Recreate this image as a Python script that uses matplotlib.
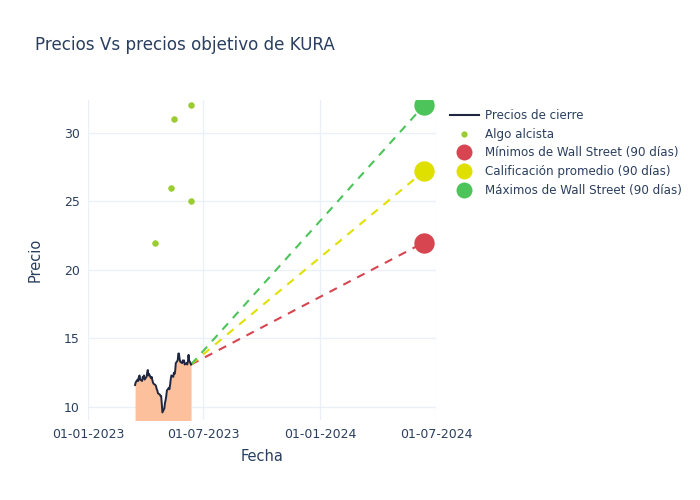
import matplotlib
matplotlib.use("Agg")
import matplotlib.pyplot as plt
import pandas as pd
from matplotlib.lines import Line2D

# ---- data ----
price_dates = pd.bdate_range("2023-03-16", "2023-06-12")
close_prices = [11.6, 11.8, 12.0, 11.9, 12.2, 12.3, 12.0, 11.9, 12.2, 12.1,
                12.3, 12.0, 12.2, 12.5, 12.7, 12.3, 12.4, 12.1, 12.2, 12.0,
                11.8, 11.7, 11.6, 11.5, 11.3, 11.2, 11.0, 10.9, 10.8, 10.8,
                10.2, 9.6, 9.9, 10.3, 10.5, 10.8, 11.2, 11.4, 11.3, 11.6,
                12.0, 12.3, 12.2, 12.5, 12.4, 12.6, 13.2, 13.4, 13.9, 13.9,
                13.5, 13.3, 13.2, 13.4, 13.3, 13.4, 13.1, 13.2, 13.1, 13.3,
                13.8, 13.4, 13.1]

bull_dates = pd.to_datetime(["2023-04-16", "2023-05-11", "2023-05-16", "2023-06-12", "2023-06-12"])
bull_prices = [22, 26, 31, 32, 25]

target_date = pd.Timestamp("2024-06-12")
target_low = 22.0
target_avg = 27.2
target_high = 32.0

x_ticks = pd.to_datetime(["2023-01-01", "2023-07-01", "2024-01-01", "2024-07-01"])
x_tick_labels = ["01-01-2023", "01-07-2023", "01-01-2024", "01-07-2024"]
y_ticks = [10, 15, 20, 25, 30]

# ---- style ----
txt = "#2a3f5f"
grid = "#ebf0f8"
c_line = "#1f2640"
c_fill = "#fcc09c"
c_bull = "#9acd32"
c_low = "#d64550"
c_avg = "#e0e000"
c_high = "#4cc45a"

plt.rcParams["font.family"] = ["DejaVu Sans"]

fig = plt.figure(figsize=(7, 5), dpi=100)
ax = fig.add_axes([88 / 700, 80 / 500, (436 - 88) / 700, 320 / 500])

ymin, ymax = 9.05, 32.4
ax.fill_between(price_dates, close_prices, ymin - 5, color=c_fill, zorder=2, linewidth=0)
ax.plot(price_dates, close_prices, color=c_line, lw=1.4, zorder=4)

last_d = price_dates[-1]
last_p = close_prices[-1]
for val, col in [(target_low, c_low), (target_avg, c_avg), (target_high, c_high)]:
    ax.plot([last_d, target_date], [last_p, val], color=col, lw=1.5,
            dashes=(4, 3.5), zorder=3)

ax.scatter(bull_dates, bull_prices, s=22, color=c_bull, zorder=5, linewidths=0)
ax.scatter([target_date], [target_low], s=215, color=c_low, zorder=6, linewidths=0)
ax.scatter([target_date], [target_avg], s=215, color=c_avg, zorder=6, linewidths=0)
ax.scatter([target_date], [target_high], s=215, color=c_high, zorder=6, linewidths=0)

ax.set_xlim(pd.Timestamp("2023-01-01"), pd.Timestamp("2024-07-01"))
ax.set_ylim(ymin, ymax)
ax.set_xticks(x_ticks)
ax.set_xticklabels(x_tick_labels)
ax.set_yticks(y_ticks)
ax.grid(True, color=grid, lw=1, zorder=0)
ax.set_axisbelow(True)
for s in ax.spines.values():
    s.set_visible(False)
ax.tick_params(length=0, colors=txt, labelsize=9, pad=6)
ax.set_xlabel("Fecha", color=txt, fontsize=10.5, labelpad=5.5)
ax.set_ylabel("Precio", color=txt, fontsize=10.5, labelpad=15)

fig.text(35 / 700, 1 - 45 / 500, "Precios Vs precios objetivo de KURA", color=txt,
         fontsize=12.1, va="center", ha="left")

handles = [
    Line2D([], [], color=c_line, lw=1.5),
    Line2D([], [], color=c_bull, marker="o", ls="", markersize=4.5, markeredgewidth=0),
    Line2D([], [], color=c_low, marker="o", ls="", markersize=11.5, markeredgewidth=0),
    Line2D([], [], color=c_avg, marker="o", ls="", markersize=11.5, markeredgewidth=0),
    Line2D([], [], color=c_high, marker="o", ls="", markersize=11.5, markeredgewidth=0),
]
labels = ["Precios de cierre", "Algo alcista", "Mínimos de Wall Street (90 días)",
          "Calificación promedio (90 días)", "Máximos de Wall Street (90 días)"]
leg = fig.legend(handles, labels, loc="upper left", bbox_to_anchor=(444 / 700, 1 - 103 / 500),
                 frameon=False, fontsize=8.6, handlelength=2.4, handletextpad=0.5,
                 labelspacing=0.48, borderpad=0)
for t in leg.get_texts():
    t.set_color(txt)

fig.savefig("out.png", dpi=100)
